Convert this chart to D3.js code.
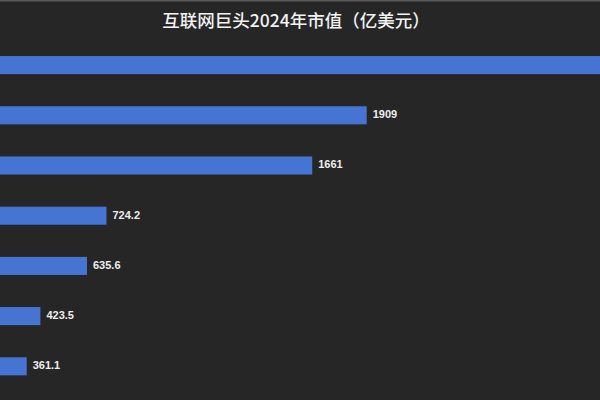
<!DOCTYPE html>
<html>
<head>
<meta charset="utf-8">
<script src="https://cdn.jsdelivr.net/npm/d3@7"></script>
<style>
  html, body { margin: 0; padding: 0; background: #262626; }
  svg { display: block; }
</style>
</head>
<body>
<div id="chart"></div>
<script>
// Chart data (top bar runs past the frame, its value is an estimate)
const categories = ["A", "B", "C", "D", "E", "F", "G"];
const values = [3500, 1909, 1661, 724.2, 635.6, 423.5, 361.1];
const labels = ["3500", "1909", "1661", "724.2", "635.6", "423.5", "361.1"];
const title = "互联网巨头2024年市值（亿美元）";

const width = 600;
const height = 400;

const svg = d3.select("#chart")
  .append("svg")
  .attr("width", width)
  .attr("height", height);

svg.append("rect")
  .attr("width", width)
  .attr("height", height)
  .attr("fill", "#262626");

// thin grey edge along the top
svg.append("rect")
  .attr("width", width)
  .attr("height", 1.5)
  .attr("fill", "#5a5a5a");

// the plot is cropped on the left: zero sits just outside the frame
const x = d3.scaleLinear()
  .domain([0, 3000])
  .range([-52.6, 606.35]);

const y = d3.scaleBand()
  .domain(categories)
  .range([40, 391.4])
  .paddingInner(0.64)
  .paddingOuter(0.32);

const rows = categories.map((c, i) => ({ cat: c, value: values[i], label: labels[i] }));

const g = svg.append("g");

g.selectAll(".bar")
  .data(rows)
  .join("rect")
  .attr("class", "bar")
  .attr("x", x(0))
  .attr("y", d => y(d.cat))
  .attr("width", d => x(d.value) - x(0))
  .attr("height", y.bandwidth())
  .attr("fill", "#4674d3");

// labels only for bars that end inside the frame
g.selectAll(".value")
  .data(rows.filter(d => x(d.value) < width))
  .join("text")
  .attr("class", "value")
  .attr("x", d => x(d.value) + 6)
  .attr("y", d => y(d.cat) + y.bandwidth() / 2)
  .attr("dominant-baseline", "middle")
  .attr("font-family", "'Liberation Sans', Arial, sans-serif")
  .attr("font-size", "11px")
  .attr("font-weight", "bold")
  .attr("fill", "#eeeeee")
  .text(d => d.label);

svg.append("text")
  .attr("x", 296)
  .attr("y", 22)
  .attr("text-anchor", "middle")
  .attr("dominant-baseline", "middle")
  .attr("font-family", "'Noto Sans CJK SC', sans-serif")
  .attr("font-size", "17.5px")
  .attr("font-weight", 500)
  .attr("fill", "#f2f2f2")
  .text(title);
</script>
</body>
</html>
